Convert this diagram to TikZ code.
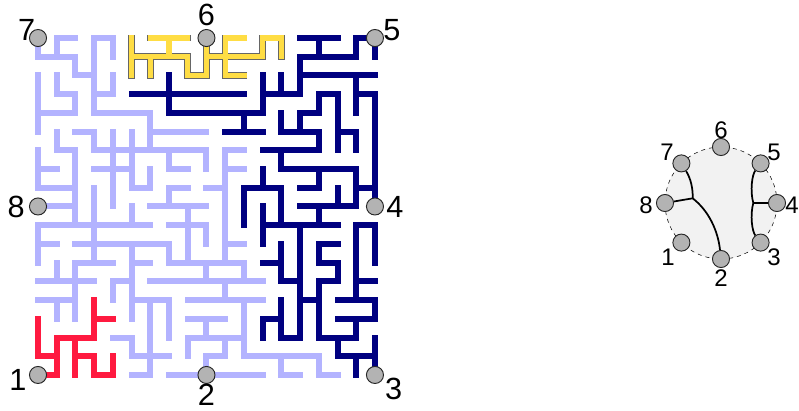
\documentclass[tikz,border=0pt]{standalone}
\usepackage{fontspec}
\setmainfont{Liberation Sans}
\definecolor{wirelight}{HTML}{B3B3FF}
\definecolor{wiredark}{HTML}{000080}
\definecolor{wirered}{HTML}{FF1A40}
\definecolor{wireyellow}{HTML}{FFDD44}
\definecolor{pingray}{HTML}{B3B3B3}
\newcommand{\yellownet}{
    (5,0) -- (5,2)
    (5,1) -- (8,1) -- (8,2) -- (9,2) -- (9,0)
    (6,1) -- (6,2)
    (6,0) -- (8,0)
    (7,0) -- (7,1)
    (9,1) -- (12,1) -- (12,0) -- (13,0) -- (13,1)
    (11,0) -- (10,0) -- (10,2) -- (11,2)}
\tikzset{
  wire/.style = {line width = 4.5pt, line cap = rect, line join = miter},
  pin/.style = {circle, draw = black!85, fill = pingray, line width = 0.7pt, minimum size = 12.8pt, inner sep = 0pt},
  biglabel/.style = {font = \fontsize{23}{23}\selectfont, inner sep = 0pt},
  smalllabel/.style = {font = \fontsize{18}{18}\selectfont, inner sep = 0pt},
  tree/.style = {line width = 1.3pt, black}
}

\begin{document}
\begin{tikzpicture}[x = 14.04pt, y = -14.04pt]
  \useasboundingbox (-2.03,-2.03) rectangle (40.652,19.925);

  % free channels
  \draw[wire, wirelight]
    (0,0) -- (0,1) -- (2,1) -- (2,2) -- (3,2)
    (1,1) -- (1,0) -- (2,0)
    (3,0) -- (3,4) -- (6,4) -- (6,6)
    (3,0) -- (4,0) -- (4,1)
    (3,3) -- (4,3) -- (4,2)
    (6,5) -- (9,5)
    (0,2) -- (0,5)
    (0,4) -- (2,4) -- (2,3) -- (1,3) -- (1,2)
    (1,5) -- (1,6) -- (2,6) -- (2,10)
    (2,5) -- (3,5) -- (3,6) -- (9,6) -- (9,7)
    (4,5) -- (4,9)
    (3,7) -- (5,7)
    (5,5) -- (5,8) -- (6,8) -- (6,7)
    (7,6) -- (7,7) -- (8,7)
    (7,8) -- (8,8)
    (7,8) -- (7,9)
    (6,9) -- (9,9)
    (9,8) -- (10,8)
    (10,7) -- (11,7)
    (11,6) -- (10,6) -- (10,12)
    (3,8) -- (3,12)
    (0,6) -- (0,8) -- (2,8)
    (0,7) -- (1,7)
    (0,9) -- (2,9)
    (5,9) -- (5,10)
    (0,11) -- (1,11)
    (0,12) -- (0,10) -- (6,10)
    (2,11) -- (7,11) -- (7,12) -- (11,12) -- (11,13)
    (8,9) -- (8,12)
    (7,10) -- (9,10) -- (9,11)
    (10,11) -- (11,11)
    (2,15) -- (2,12) -- (4,12)
    (1,12) -- (1,13)
    (0,13) -- (3,13)
    (0,14) -- (2,14)
    (1,14) -- (1,15)
    (5,11) -- (5,15)
    (5,12) -- (6,12)
    (4,14) -- (4,13) -- (5,13)
    (5,14) -- (7,14) -- (7,16)
    (6,14) -- (6,18) -- (5,18)
    (5,17) -- (7,17)
    (4,16) -- (5,16) -- (5,17)
    (6,13) -- (9,13) -- (9,12)
    (9,13) -- (12,13)
    (10,14) -- (10,13)
    (8,14) -- (12,14)
    (8,15) -- (10,15)
    (9,15) -- (9,16)
    (8,17) -- (8,16) -- (11,16)
    (9,18) -- (9,17) -- (10,17) -- (10,16)
    (7,18) -- (12,18)
    (11,14) -- (11,17) -- (15,17) -- (15,18) -- (16,18)
    (13,17) -- (13,18) -- (14,18);

  % routed nets, right side
  \draw[wire, wiredark]
    (5,3) -- (11,3)
    (7,2) -- (7,4) -- (12,4) -- (12,2)
    (12,3) -- (14,3) -- (14,1) -- (17,1) -- (17,0) -- (18,0) -- (18,1)
    (13,2) -- (13,3)
    (14,0) -- (16,0)
    (15,0) -- (15,1)
    (14,2) -- (18,2)
    (17,2) -- (17,4)
    (17,3) -- (18,3) -- (18,9)
    (16,6) -- (16,3) -- (15,3) -- (15,4) -- (14,4) -- (14,5)
    (13,4) -- (13,5) -- (15,5) -- (15,6) -- (12,6)
    (16,5) -- (17,5) -- (17,6)
    (11,4) -- (11,5)
    (10,5) -- (12,5)
    (13,6) -- (13,7) -- (17,7) -- (17,9) -- (14,9)
    (17,8) -- (18,8)
    (15,7) -- (15,8) -- (14,8)
    (12,7) -- (12,8)
    (11,10) -- (11,8) -- (13,8) -- (13,10)
    (12,9) -- (12,11)
    (12,10) -- (16,10)
    (16,8) -- (16,9)
    (15,9) -- (15,10)
    (18,12) -- (18,10) -- (17,10) -- (17,14)
    (17,13) -- (18,13)
    (16,14) -- (18,14) -- (18,15) -- (16,15)
    (17,15) -- (17,16) -- (15,16) -- (15,13) -- (16,13) -- (16,12) -- (15,12) -- (15,11) -- (16,11)
    (14,10) -- (14,16) -- (13,16) -- (13,14)
    (12,16) -- (12,15) -- (13,15)
    (14,14) -- (15,14)
    (13,11) -- (13,13) -- (14,13)
    (12,12) -- (13,12)
    (16,16) -- (16,17) -- (18,17)
    (18,16) -- (18,18)
    (17,17) -- (17,18);

  \draw[wire, wirered]
    (0,15) -- (0,17) -- (1,17)
    (0,18) -- (1,18) -- (1,16) -- (3,16) -- (3,14)
    (3,15) -- (4,15)
    (2,16) -- (2,18)
    (2,17) -- (3,17) -- (3,18) -- (4,18) -- (4,17);

  \draw[wire, black!60, line width = 4.9pt] \yellownet;
  \draw[wire, wireyellow, line width = 4pt] \yellownet;

  % pins of the big block
  \node[pin] (p1) at (0,18) {};
  \node[pin] (p2) at (9,18) {};
  \node[pin] (p3) at (18,18) {};
  \node[pin] (p4) at (18,9) {};
  \node[pin] (p5) at (18,0) {};
  \node[pin] (p6) at (9,0) {};
  \node[pin] (p7) at (0,0) {};
  \node[pin] (p8) at (0,9) {};

  \node[biglabel] (l1) at (-1.07,18.27) {1};
  \node[biglabel] (l2) at (9,19.08) {2};
  \node[biglabel] (l3) at (19,18.72) {3};
  \node[biglabel] (l4) at (19.07,9) {4};
  \node[biglabel] (l5) at (18.91,-0.43) {5};
  \node[biglabel] (l6) at (9,-1.23) {6};
  \node[biglabel] (l7) at (-0.6,-0.43) {7};
  \node[biglabel] (l8) at (-1.17,9) {8};

  % small tree
  \begin{scope}[shift = {(36.485,8.814)}, x = 0.75pt, y = 0.75pt]
    \draw[dashed, line width = 0.4pt, fill = black!5] (0,0) circle [radius = 56];
    \node[pin] (q1) at (-39.6,-39.6) {};
    \node[pin] (q2) at (0,-56) {};
    \node[pin] (q3) at (39.6,-39.6) {};
    \node[pin] (q4) at (56,0) {};
    \node[pin] (q5) at (39.6,39.6) {};
    \node[pin] (q6) at (0,56) {};
    \node[pin] (q7) at (-39.6,39.6) {};
    \node[pin] (q8) at (-56,0) {};
    \coordinate (jl) at (-28.3,4.7);
    \coordinate (jr) at (32.3,0);
    \draw[tree] (q7) .. controls (-30,24) and (-28,14) .. (jl);
    \draw[tree] (q8) -- (jl);
    \draw[tree] (jl) .. controls (-12,-8) and (-3,-28) .. (q2);
    \draw[tree] (q5) .. controls (31,28) and (29,12) .. (jr);
    \draw[tree] (q3) .. controls (31,-28) and (29,-12) .. (jr);
    \draw[tree] (jr) -- (q4);
    \node[smalllabel] (m1) at (-53,-54) {1};
    \node[smalllabel] (m2) at (0,-75) {2};
    \node[smalllabel] (m3) at (53,-54) {3};
    \node[smalllabel] (m4) at (71,-2) {4};
    \node[smalllabel] (m5) at (53,51) {5};
    \node[smalllabel] (m6) at (0,73) {6};
    \node[smalllabel] (m7) at (-54,51) {7};
    \node[smalllabel] (m8) at (-75,-2) {8};
  \end{scope}
\end{tikzpicture}
\end{document}
